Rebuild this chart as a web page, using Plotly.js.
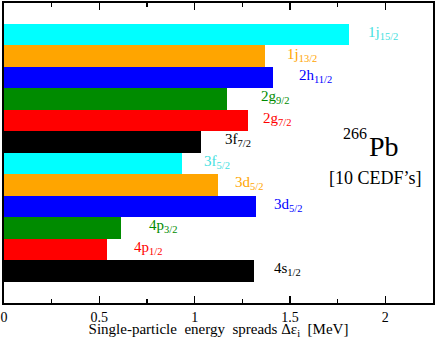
<!DOCTYPE html>
<html>
<head>
<meta charset="utf-8">
<script src="https://cdn.plot.ly/plotly-3.0.1.min.js"></script>
<style>html,body{margin:0;padding:0;background:#fff;}#chart{width:436px;height:339px;}</style>
</head>
<body>
<div id="chart"></div>
<script>
// states from top to bottom
var states = ["1j15/2","1j13/2","2h11/2","2g9/2","2g7/2","3f7/2","3f5/2","3d5/2","3d3/2","4p3/2","4p1/2","4s1/2"];
var labels = ["1j<sub>15/2</sub>","1j<sub>13/2</sub>","2h<sub>11/2</sub>","2g<sub>9/2</sub>","2g<sub>7/2</sub>","3f<sub>7/2</sub>","3f<sub>5/2</sub>","3d<sub>5/2</sub>","3d<sub>5/2</sub>","4p<sub>3/2</sub>","4p<sub>1/2</sub>","4s<sub>1/2</sub>"];
var spreads = [1.81, 1.371, 1.412, 1.17, 1.281, 1.032, 0.931, 1.12, 1.321, 0.612, 0.542, 1.31];
var xTicks = [0, 0.5, 1, 1.5, 2];

// styling (not data)
var barColors = ["#00ffff","#ffa500","#0000ff","#008b00","#ff0000","#000000","#00ffff","#ffa500","#0000ff","#008b00","#ff0000","#000000"];
var textColors = ["#3fe0e0","#ffa500","#0000ff","#008b00","#ff0000","#000000","#3fe0e0","#ffa500","#0000ff","#008b00","#ff0000","#000000"];
var labelX = [1.90, 1.473, 1.539, 1.335, 1.35, 1.149, 1.036, 1.202, 1.408, 0.748, 0.673, 1.408];

var serif = "Liberation Serif, Times New Roman, serif";
var order = states.slice().reverse();

var L = 4, R = 3, T = 3, B = 36, W = 436, H = 339;
function px(x) { return (x - L) / (W - L - R); }
function py(y) { return 1 - (y - T) / (H - T - B); }

var trace = {
  type: "bar",
  orientation: "h",
  x: spreads,
  y: states,
  width: 1,
  marker: {color: barColors, line: {width: 0}},
  hoverinfo: "none"
};

var annotations = states.map(function(s, i) {
  return {
    x: labelX[i], y: s, xref: "x", yref: "y",
    text: labels[i], showarrow: false,
    xanchor: "left", yanchor: "middle", yshift: 1.5,
    font: {family: serif, size: 15, color: textColors[i]}
  };
});
annotations.push({
  x: px(369), y: py(144), xref: "paper", yref: "paper", text: "266", showarrow: false,
  font: {family: serif, size: 16, color: "#000"}, xanchor: "right", yanchor: "bottom"
});
annotations.push({
  x: px(367), y: py(164), xref: "paper", yref: "paper", text: "Pb", showarrow: false,
  font: {family: serif, size: 28, color: "#000"}, xanchor: "left", yanchor: "bottom"
});
annotations.push({
  x: px(375), y: py(190), xref: "paper", yref: "paper", text: "[10 CEDF’s]", showarrow: false,
  font: {family: serif, size: 18, color: "#000"}, xanchor: "center", yanchor: "bottom"
});

var layout = {
  width: W, height: H,
  margin: {l: L, r: R, t: T, b: B},
  paper_bgcolor: "#fff", plot_bgcolor: "#fff",
  bargap: 0,
  showlegend: false,
  font: {family: serif, color: "#000"},
  xaxis: {
    range: [0, 2.25],
    tickvals: xTicks,
    ticktext: xTicks.map(String),
    ticks: "inside", ticklen: 7, tickwidth: 1.5, tickcolor: "#000",
    minor: {dtick: 0.25, tick0: 0, ticks: "inside", ticklen: 4, tickwidth: 1.5, tickcolor: "#000"},
    showline: true, linewidth: 2, linecolor: "#000", mirror: "ticks",
    showgrid: false, zeroline: false,
    tickfont: {family: serif, size: 14, color: "#000"},
    title: {text: "Single-particle  energy  spreads Δε<sub>i</sub>  [MeV]", font: {family: serif, size: 15, color: "#000"}, standoff: 4},
    fixedrange: true
  },
  yaxis: {
    type: "category",
    categoryorder: "array",
    categoryarray: order,
    range: [-1.5, 12.47],
    showticklabels: false, ticks: "",
    showline: true, linewidth: 2, linecolor: "#000", mirror: true,
    showgrid: false, zeroline: false,
    fixedrange: true
  },
  annotations: annotations
};

Plotly.newPlot("chart", [trace], layout, {displayModeBar: false, staticPlot: true});
</script>
</body>
</html>
